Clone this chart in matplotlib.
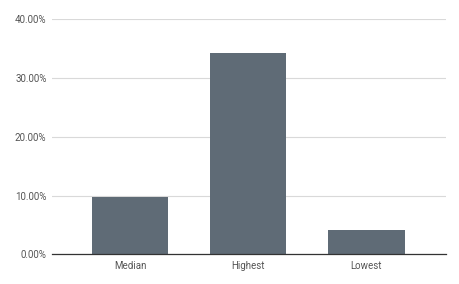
import matplotlib
matplotlib.use("Agg")
import matplotlib.pyplot as plt
from matplotlib.ticker import FuncFormatter

categories = ["Median", "Highest", "Lowest"]
values = [9.70, 34.2, 4.19]
yticks = [0, 10, 20, 30, 40]

plt.rcParams['font.family'] = ['Roboto', 'DejaVu Sans']
fig = plt.figure(figsize=(4.6, 2.84), dpi=100)
ax = fig.add_axes([52/460, 1-254.3/284, (446-52)/460, (254.3-19.3)/284])
x = range(len(categories))
ax.bar(x, values, width=0.647, color="#5f6b76", zorder=3)
ax.set_xlim(-0.663, 2.675)
ax.set_ylim(0, 40)
ax.set_yticks(yticks)
ax.yaxis.set_major_formatter(FuncFormatter(lambda v, p: f"{v:.2f}%"))
ax.set_xticks(list(x))
ax.set_xticklabels(categories)
ax.grid(axis='y', color="#d9d9d9", linewidth=0.8, zorder=0)
for s in ['top', 'right', 'left']:
    ax.spines[s].set_visible(False)
ax.spines['bottom'].set_color("#333333")
ax.spines['bottom'].set_linewidth(0.9)
ax.spines['bottom'].set_zorder(4)
ax.tick_params(axis='both', length=0, labelsize=7, labelcolor="#555555")
ax.tick_params(axis='y', pad=4)
ax.tick_params(axis='x', pad=5)
fig.savefig("out.png", dpi=100)
